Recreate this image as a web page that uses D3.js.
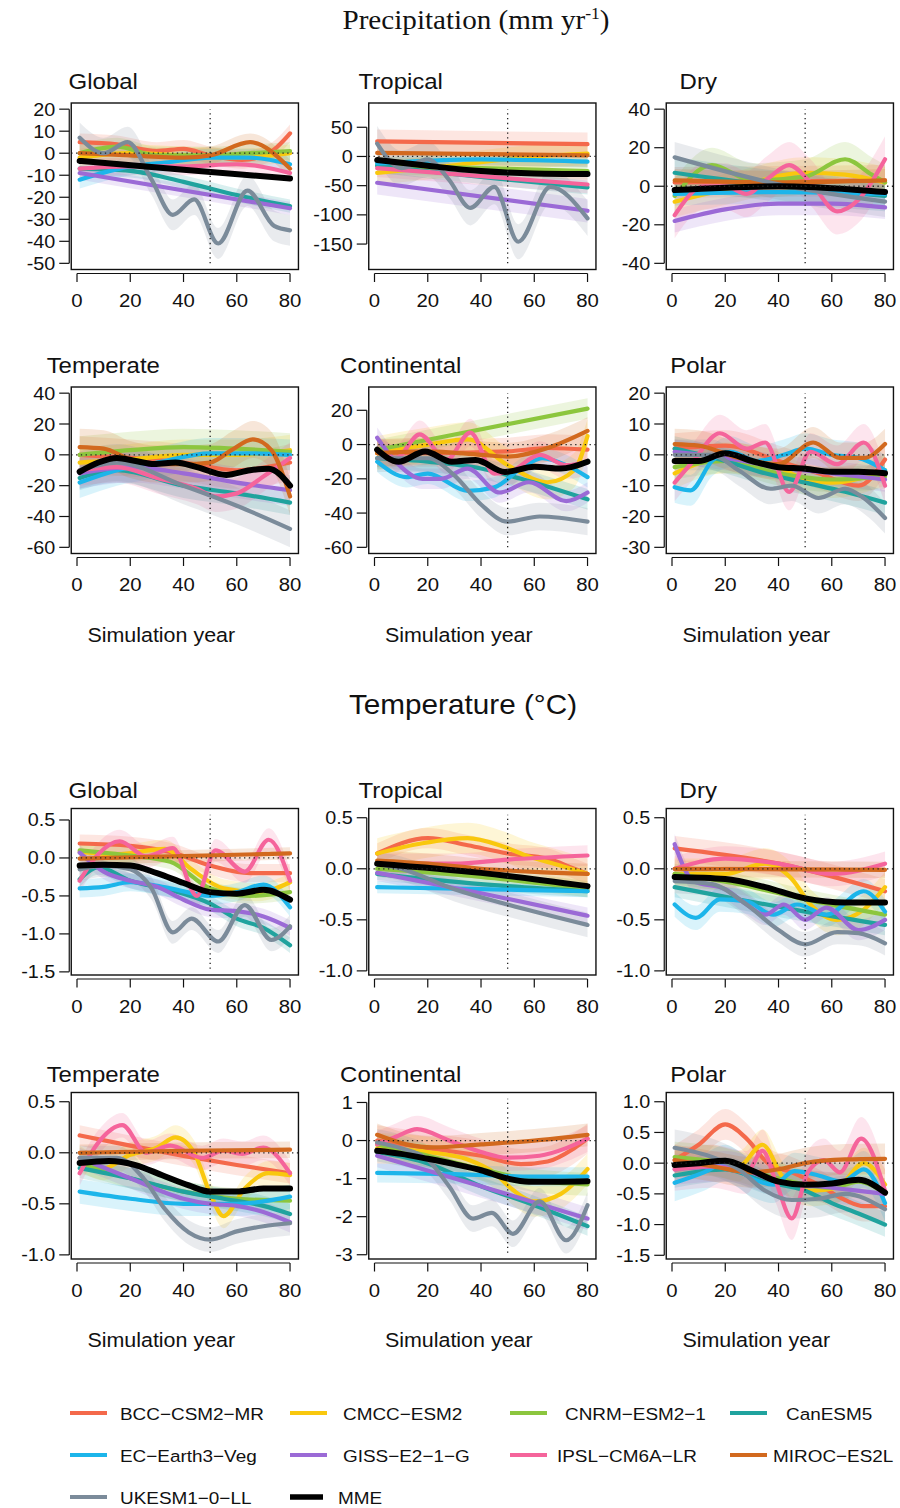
<!DOCTYPE html>
<html><head><meta charset="utf-8">
<script src="https://cdn.jsdelivr.net/npm/d3@7"></script>
<style>body{margin:0;background:#fff}</style>
</head><body><svg id="c" width="900" height="1508"></svg>
<script>
// ---------- DATA ----------
const models = ["BCC-CSM2-MR","CMCC-ESM2","CNRM-ESM2-1","CanESM5","EC-Earth3-Veg","GISS-E2-1-G","IPSL-CM6A-LR","MIROC-ES2L","UKESM1-0-LL","MME"];
const palette = ["#F4694B","#F9C80E","#8CC63E","#20A39E","#1CB5EA","#9B6AD6","#F5649B","#D2691E","#7B8B9A","#000000"];
const regions = ["Global","Tropical","Dry","Temperate","Continental","Polar"];
const yearRange = [1, 80];
const xTicks = [0, 20, 40, 60, 80];

// Precipitation (mm/yr) – order: models above
const precipGlobal = [
  [[1,5],[15,4],[30,1],[40,2],[50,-1],[62,-3],[72,0],[80,9]],
  [[1,-2],[20,0],[40,-1],[60,-2],[80,0]],
  [[1,0],[15,3],[30,-1],[50,-1],[65,0],[80,1]],
  [[1,-7],[20,-8],[40,-13],[60,-19],[80,-24]],
  [[1,-12],[20,-6],[35,-4],[50,-2],[65,-2],[80,-5]],
  [[1,-9],[80,-25]],
  [[1,-7],[20,-6],[40,-6],[60,-5],[80,-9]],
  [[1,0],[20,-1],[40,-2],[50,-1],[65,5],[80,-7]],
  [[1,7],[10,0],[19,5],[28,-12],[36,-28],[44,-21],[53,-41],[64,-17],[74,-33],[80,-35]],
  [[1,-3.5],[40,-7.5],[80,-11.5]]
];
const precipGlobalCI = [4,4,4,3,4,3,4,4,7,0];
const precipTropical = [
  [[1,26],[80,21]],
  [[1,-28],[30,-15],[60,0],[80,5]],
  [[1,-15],[80,-25]],
  [[1,-16],[40,-35],[80,-53]],
  [[1,-12],[40,-5],[80,-9]],
  [[1,-45],[80,-93]],
  [[1,-20],[80,-48]],
  [[1,6],[80,2]],
  [[1,22],[10,-20],[20,-5],[28,-40],[36,-88],[45,-52],[54,-146],[66,-52],[80,-106]],
  [[1,-6],[20,-16],[40,-25],[60,-29],[80,-30]]
];
const precipTropicalCI = [20,20,15,12,10,20,15,20,30,0];
const precipDry = [
  [[1,2],[80,3]],
  [[1,-8],[25,0],[50,7],[65,6],[80,2]],
  [[1,-5],[15,11],[30,3],[50,5],[65,14],[75,6],[80,2]],
  [[1,7],[40,0],[80,-5]],
  [[1,-4],[40,-3],[80,-4]],
  [[1,-18],[20,-12],[40,-9],[60,-9],[80,-11]],
  [[1,-15],[12,0],[20,0],[28,-4],[36,4],[44,11],[52,2],[62,-13],[70,-7],[80,14]],
  [[1,3],[40,2],[80,3]],
  [[1,15],[40,1],[80,-8]],
  [[1,-2],[40,0],[60,-1],[80,-3]]
];
const precipDryCI = [8,8,9,8,6,6,12,6,8,0];
const precipTemperate = [
  [[1,0],[20,-2],[40,-5],[60,-10],[80,-5]],
  [[1,-5],[20,-3],[40,0],[60,0],[80,3]],
  [[1,0],[20,3],[40,5],[60,4],[80,2]],
  [[1,-15],[15,-10],[40,-20],[60,-25],[80,-31]],
  [[1,-18],[15,-10],[30,-5],[50,1],[65,1],[80,0]],
  [[1,-12],[20,-8],[40,-12],[60,-18],[80,-23]],
  [[1,-10],[15,-8],[30,-15],[45,-22],[52,-27],[60,-25],[70,-14],[80,-2]],
  [[1,5],[10,4],[20,-3],[30,-6],[40,-6],[50,-5],[58,3],[66,10],[73,3],[80,-27]],
  [[1,-10],[15,-5],[40,-20],[60,-33],[80,-48]],
  [[1,-11],[8,-5],[15,-2],[22,-4],[29,-6],[37,-5],[45,-8],[56,-13],[65,-10],[72,-9],[80,-20]]
];
const precipTemperateCI = [12,10,12,8,10,10,10,12,12,0];
const precipContinental = [
  [[1,-5],[20,-5],[50,-4],[65,-2],[80,-3]],
  [[1,-5],[20,0],[35,3],[50,-12],[65,-22],[75,-15],[80,5]],
  [[1,-3],[80,21]],
  [[1,-8],[20,-10],[40,-14],[55,-20],[80,-32]],
  [[1,-10],[12,-19],[20,-17],[35,-27],[45,-25],[55,-14],[63,-8],[72,-12],[80,-19]],
  [[1,4],[8,-10],[18,-20],[25,-20],[35,-14],[47,-28],[58,-22],[72,-33],[80,-28]],
  [[1,-3],[8,-8],[17,6],[27,-9],[36,7],[45,-17],[52,-15],[62,-6],[72,-12],[80,-10]],
  [[1,-5],[20,-4],[40,-6],[50,-7],[65,-2],[80,8]],
  [[1,-8],[20,-8],[30,-18],[40,-35],[50,-45],[62,-42],[80,-45]],
  [[1,-3],[9,-10],[19,-4],[29,-10],[38,-9],[49,-16],[60,-13],[70,-14],[80,-10]]
];
const precipContinentalCI = [8,10,6,6,6,6,8,8,8,0];
const precipPolar = [
  [[1,2],[20,3],[40,-2],[55,-6],[70,-10],[80,-1.5]],
  [[1,-6],[20,-1],[40,-4],[50,-8],[60,-9],[80,-5]],
  [[1,-4],[20,-2],[40,-6],[60,-8],[80,-7]],
  [[1,2],[20,-2],[35,-6],[50,-9],[65,-12],[80,-15.5]],
  [[1,-10.5],[7,-11.5],[15,-2],[22,1],[32,-2],[42,0],[50,2],[60,0],[70,-1],[80,-5]],
  [[1,1],[20,-1],[40,-4],[60,-6],[80,-8]],
  [[1,-9],[8,-2],[18,7],[28,2],[35,4],[44,-12],[52,1],[62,-3],[72,4],[80,-10]],
  [[1,3.5],[10,3],[25,-1],[40,-3],[53,4],[63,-1],[72,-1],[80,3.5]],
  [[1,0],[15,0],[25,-5],[37,-11],[45,-10],[55,-14],[65,-11],[72,-14],[80,-20.5]],
  [[1,-2],[10,-2],[20,0.5],[30,-2],[40,-4],[50,-4.5],[60,-5.5],[70,-5.5],[80,-6]]
];
const precipPolarCI = [5,5,4,4,5,4,6,5,5,0];
const precipYlim = [[-50,20],[-183,81],[-40,40],[-60,40],[-60,30],[-30,20]];
const precipYTicks = [[20,10,0,-10,-20,-30,-40,-50],[50,0,-50,-100,-150],[40,20,0,-20,-40],[40,20,0,-20,-40,-60],[20,0,-20,-40,-60],[20,10,0,-10,-20,-30]];
const precipYLabels = precipYTicks.map(t => t.map(String));

// Temperature (°C)
const tempGlobal = [
  [[1,0.19],[20,0.16],[35,0.08],[50,-0.1],[65,-0.2],[80,-0.2]],
  [[1,0.08],[15,0.05],[33,0.12],[43,-0.15],[55,-0.4],[68,-0.45],[80,-0.32]],
  [[1,0.1],[20,0.03],[35,-0.05],[50,-0.4],[65,-0.5],[80,-0.45]],
  [[1,-0.28],[8,-0.12],[20,-0.3],[35,-0.42],[50,-0.6],[60,-0.8],[70,-0.92],[80,-1.15]],
  [[1,-0.4],[10,-0.38],[20,-0.32],[35,-0.4],[50,-0.5],[60,-0.45],[70,-0.35],[80,-0.65]],
  [[1,0.07],[10,-0.18],[20,-0.3],[30,-0.38],[40,-0.55],[50,-0.68],[60,-0.7],[70,-0.77],[80,-0.92]],
  [[1,-0.3],[8,0.05],[16,0.22],[26,0.02],[36,0.13],[45,-0.5],[52,0.1],[63,-0.18],[72,0.24],[80,-0.3]],
  [[1,-0.01],[80,0.06]],
  [[1,-0.15],[10,-0.1],[20,-0.15],[28,-0.4],[36,-0.98],[43,-0.8],[53,-1.1],[63,-0.62],[73,-1.08],[80,-0.9]],
  [[1,-0.1],[10,-0.09],[20,-0.1],[30,-0.2],[40,-0.33],[50,-0.45],[60,-0.47],[70,-0.42],[80,-0.55]]
];
const tempGlobalCI = [0.12,0.12,0.1,0.1,0.12,0.1,0.15,0.08,0.15,0];
const tempTropical = [
  [[1,0.15],[20,0.3],[35,0.23],[50,0.15],[65,0.1],[75,0.0],[80,-0.05]],
  [[1,0.15],[18,0.25],[35,0.3],[48,0.22],[58,0.12],[70,0.03],[80,-0.05]],
  [[1,0.0],[40,-0.08],[80,-0.2]],
  [[1,-0.05],[40,-0.15],[80,-0.22]],
  [[1,-0.18],[40,-0.2],[80,-0.22]],
  [[1,-0.04],[40,-0.24],[80,-0.46]],
  [[1,0.05],[30,0.05],[50,0.09],[80,0.13]],
  [[1,0.08],[20,0.05],[40,0.0],[60,-0.03],[80,-0.05]],
  [[1,0.05],[10,0.0],[30,-0.2],[50,-0.35],[80,-0.55]],
  [[1,0.05],[40,-0.04],[80,-0.17]]
];
const tempTropicalCI = [0.1,0.15,0.08,0.06,0.06,0.08,0.1,0.1,0.12,0];
const tempDry = [
  [[1,0.2],[40,0.05],[80,-0.22]],
  [[1,-0.05],[20,-0.05],[35,0.05],[45,-0.1],[52,-0.35],[62,-0.5],[72,-0.4],[80,-0.18]],
  [[1,-0.05],[25,-0.15],[50,-0.3],[80,-0.45]],
  [[1,-0.18],[25,-0.3],[50,-0.42],[80,-0.55]],
  [[1,-0.35],[9,-0.48],[18,-0.3],[28,-0.32],[38,-0.45],[47,-0.35],[58,-0.45],[72,-0.22],[80,-0.42]],
  [[1,0.24],[8,-0.12],[20,-0.2],[28,-0.35],[35,-0.45],[42,-0.35],[50,-0.5],[58,-0.38],[70,-0.6],[80,-0.5]],
  [[1,0.0],[20,0.1],[40,0.05],[60,-0.05],[80,0.05]],
  [[1,0],[80,-0.01]],
  [[1,-0.12],[15,-0.15],[28,-0.35],[40,-0.6],[50,-0.74],[62,-0.62],[70,-0.63],[80,-0.73]],
  [[1,-0.08],[20,-0.1],[35,-0.18],[50,-0.29],[65,-0.33],[80,-0.33]]
];
const tempDryCI = [0.12,0.15,0.1,0.1,0.12,0.1,0.12,0.08,0.12,0];
const tempTemperate = [
  [[1,0.17],[20,0.07],[40,-0.03],[60,-0.12],[80,-0.2]],
  [[1,-0.05],[10,-0.15],[20,-0.02],[30,0.05],[37,0.15],[44,0.0],[50,-0.4],[55,-0.62],[63,-0.35],[72,-0.2],[80,-0.22]],
  [[1,-0.1],[20,-0.25],[40,-0.38],[60,-0.45],[80,-0.47]],
  [[1,-0.15],[20,-0.25],[40,-0.38],[55,-0.45],[70,-0.52],[80,-0.6]],
  [[1,-0.38],[20,-0.45],[40,-0.5],[60,-0.5],[80,-0.43]],
  [[1,-0.05],[20,-0.25],[40,-0.45],[50,-0.5],[60,-0.52],[70,-0.58],[80,-0.68]],
  [[1,-0.2],[8,0.1],[17,0.27],[26,0.0],[35,0.07],[47,-0.05],[55,0.02],[62,-0.01],[70,0.05],[80,-0.2]],
  [[1,0.0],[40,0.02],[80,0.03]],
  [[1,-0.05],[15,-0.05],[25,-0.25],[33,-0.55],[42,-0.78],[50,-0.85],[60,-0.77],[70,-0.72],[80,-0.69]],
  [[1,-0.1],[12,-0.08],[22,-0.12],[32,-0.22],[42,-0.32],[50,-0.38],[60,-0.38],[70,-0.35],[80,-0.35]]
];
const tempTemperateCI = [0.1,0.12,0.1,0.1,0.12,0.1,0.12,0.08,0.12,0];
const tempContinental = [
  [[1,0.0],[20,-0.2],[40,-0.4],[55,-0.62],[65,-0.55],[75,-0.2],[80,0.05]],
  [[1,-0.2],[20,-0.3],[35,-0.5],[45,-0.85],[52,-1.3],[60,-1.6],[70,-1.4],[80,-0.75]],
  [[1,-0.1],[20,-0.4],[40,-0.75],[60,-1.05],[80,-1.15]],
  [[1,-0.3],[20,-0.6],[40,-1.2],[60,-1.7],[80,-2.25]],
  [[1,-0.85],[30,-0.88],[60,-0.95],[80,-0.95]],
  [[1,-0.4],[40,-1.2],[80,-2.05]],
  [[1,-0.1],[8,0.1],[16,0.3],[28,0.0],[40,-0.3],[50,-0.45],[62,-0.4],[72,-0.2],[80,0.05]],
  [[1,0.15],[12,-0.1],[22,-0.18],[40,-0.1],[60,0.0],[80,0.15]],
  [[1,-0.05],[10,-0.2],[20,-0.5],[28,-1.2],[37,-2.05],[44,-1.9],[52,-2.45],[62,-1.6],[72,-2.62],[80,-1.7]],
  [[1,-0.27],[10,-0.35],[20,-0.48],[30,-0.62],[40,-0.78],[50,-1.0],[58,-1.08],[70,-1.08],[80,-1.07]]
];
const tempContinentalCI = [0.4,0.4,0.3,0.25,0.25,0.3,0.35,0.3,0.35,0];
const tempPolar = [
  [[1,0.05],[10,0.3],[20,0.63],[28,0.4],[36,0.0],[45,-0.15],[55,-0.35],[65,-0.6],[72,-0.7],[80,-0.7]],
  [[1,-0.05],[15,0.05],[25,-0.05],[34,0.3],[42,-0.25],[52,-0.45],[62,-0.4],[72,0.0],[80,-0.35]],
  [[1,0.1],[20,0.0],[40,-0.25],[60,-0.4],[70,-0.3],[80,-0.5]],
  [[1,-0.2],[20,-0.1],[35,-0.3],[50,-0.45],[60,-0.65],[70,-0.82],[80,-1.0]],
  [[1,-0.32],[12,-0.15],[20,0.0],[30,-0.25],[38,-0.35],[46,-0.13],[55,-0.2],[64,-0.3],[72,-0.1],[80,-0.65]],
  [[1,-0.1],[20,-0.05],[40,-0.3],[60,-0.4],[80,-0.5]],
  [[1,-0.1],[15,-0.05],[28,-0.15],[34,0.2],[39,-0.3],[45,-0.9],[51,-0.15],[57,0.05],[63,-0.15],[71,0.4],[80,-0.45]],
  [[1,0.05],[15,-0.05],[30,-0.15],[40,-0.1],[50,0.0],[65,0.06],[80,0.07]],
  [[1,0.25],[15,0.1],[25,-0.1],[35,-0.45],[45,-0.6],[55,-0.58],[65,-0.5],[80,-0.75]],
  [[1,-0.03],[10,0.0],[20,0.04],[30,-0.12],[40,-0.3],[50,-0.35],[60,-0.33],[70,-0.27],[80,-0.48]]
];
const tempPolarCI = [0.25,0.25,0.25,0.2,0.3,0.25,0.35,0.25,0.3,0];
const tempYlim = [[-1.46,0.57],[-0.98,0.53],[-0.98,0.53],[-0.98,0.53],[-2.95,1.1],[-1.46,1.05]];
const tempYTicks = [[0.5,0,-0.5,-1,-1.5],[0.5,0,-0.5,-1],[0.5,0,-0.5,-1],[0.5,0,-0.5,-1],[1,0,-1,-2,-3],[1,0.5,0,-0.5,-1,-1.5]];
const tempYLabels = [["0.5","0.0","-0.5","-1.0","-1.5"],["0.5","0.0","-0.5","-1.0"],["0.5","0.0","-0.5","-1.0"],["0.5","0.0","-0.5","-1.0"],["1","0","-1","-2","-3"],["1.0","0.5","0.0","-0.5","-1.0","-1.5"]];

const legendLabels = ["BCC\u2212CSM2\u2212MR","CMCC\u2212ESM2","CNRM\u2212ESM2\u22121","CanESM5","EC\u2212Earth3\u2212Veg","GISS\u2212E2\u22121\u2212G","IPSL\u2212CM6A\u2212LR","MIROC\u2212ES2L","UKESM1\u22120\u2212LL","MME"];

// ---------- LAYOUT ----------
const svg = d3.select("#c");
svg.append("rect").attr("width",900).attr("height",1508).attr("fill","#fff");
const SANS = "'Liberation Sans', Arial, Helvetica, sans-serif";
const SERIF = "'Liberation Serif', 'Times New Roman', serif";
const SX = 1.1;
const colX = [71.25, 368.75, 666.25];
const boxW = 227.2, boxH = 166.5;

function txt(g, x, y, s, size, anchor, fam) {
  return g.append("text")
    .attr("transform", `translate(${x},${y}) scale(${SX},1)`)
    .attr("text-anchor", anchor || "start")
    .attr("font-family", fam || SANS)
    .attr("font-size", size)
    .attr("fill", "#111")
    .text(s);
}

let clipId = 0;
function panel(bx, by, title, titleOff, series, ci, ylim, yTicks, yLabels, showXLab) {
  const g = svg.append("g");
  const xr = yearRange[1] - yearRange[0];
  const x = d3.scaleLinear().domain([yearRange[0] - 0.04*xr, yearRange[1] + 0.04*xr]).range([bx, bx + boxW]);
  const yr = ylim[1] - ylim[0];
  const y = d3.scaleLinear().domain([ylim[0] - 0.04*yr, ylim[1] + 0.04*yr]).range([by + boxH, by]);

  const id = "clip" + (clipId++);
  svg.append("clipPath").attr("id", id).append("rect").attr("x", bx).attr("y", by).attr("width", boxW).attr("height", boxH);
  const pg = g.append("g").attr("clip-path", `url(#${id})`);

  const area = d3.area().curve(d3.curveMonotoneX).x(d => x(d[0]));
  const line = d3.line().curve(d3.curveMonotoneX).x(d => x(d[0])).y(d => y(d[1]));

  series.forEach((s, i) => {
    if (!ci[i]) return;
    pg.append("path").attr("d", area.y0(d => y(d[1] - ci[i])).y1(d => y(d[1] + ci[i]))(s))
      .attr("fill", palette[i]).attr("fill-opacity", 0.17).attr("stroke", "none");
  });
  series.forEach((s, i) => {
    if (i === 9) return;
    pg.append("path").attr("d", line(s)).attr("fill", "none").attr("stroke", palette[i])
      .attr("stroke-width", 4.2).attr("stroke-linecap", "round").attr("stroke-linejoin", "round");
  });
  g.append("line").attr("x1", bx).attr("x2", bx + boxW + 3).attr("y1", y(0)).attr("y2", y(0))
    .attr("stroke", "#222").attr("stroke-width", 1.3).attr("stroke-dasharray", "1.3,3.5");
  g.append("line").attr("x1", x(50)).attr("x2", x(50)).attr("y1", y(ylim[0])).attr("y2", y(ylim[1]))
    .attr("stroke", "#222").attr("stroke-width", 1.3).attr("stroke-dasharray", "1.3,3.5");
  pg.append("path").attr("d", line(series[9])).attr("fill", "none").attr("stroke", palette[9])
    .attr("stroke-width", 6).attr("stroke-linecap", "round").attr("stroke-linejoin", "round");

  g.append("rect").attr("x", bx).attr("y", by).attr("width", boxW).attr("height", boxH)
    .attr("fill", "none").attr("stroke", "#111").attr("stroke-width", 1.4);

  const ay = by + boxH + 4;
  g.append("line").attr("x1", x(xTicks[0])).attr("x2", x(xTicks[xTicks.length-1])).attr("y1", ay).attr("y2", ay)
    .attr("stroke", "#111").attr("stroke-width", 1.2);
  xTicks.forEach(t => {
    g.append("line").attr("x1", x(t)).attr("x2", x(t)).attr("y1", ay).attr("y2", ay + 8.5)
      .attr("stroke", "#111").attr("stroke-width", 1.2);
    txt(g, x(t), by + boxH + 37.5, String(t), 18.5, "middle");
  });
  const ax = bx - 2;
  g.append("line").attr("x1", ax).attr("x2", ax).attr("y1", y(yTicks[0])).attr("y2", y(yTicks[yTicks.length-1]))
    .attr("stroke", "#111").attr("stroke-width", 1.2);
  yTicks.forEach((t, k) => {
    g.append("line").attr("x1", ax - 10).attr("x2", ax).attr("y1", y(t)).attr("y2", y(t))
      .attr("stroke", "#111").attr("stroke-width", 1.2);
    txt(g, bx - 16, y(t) + 6.5, yLabels[k], 18, "end");
  });
  txt(g, bx + 32, by - titleOff, title, 21.8, "middle");
  if (showXLab) txt(g, bx + 90, by + boxH + 88, "Simulation year", 19.5, "middle");
}

const t1 = svg.append("text").attr("transform", `translate(476,29) scale(${SX},1)`)
  .attr("text-anchor", "middle").attr("font-family", SERIF).attr("font-size", 26.5).attr("fill", "#111");
t1.append("tspan").text("Precipitation (mm yr");
t1.append("tspan").attr("font-size", 16).attr("dy", -10).text("-1");
t1.append("tspan").attr("dy", 10).text(")");
txt(svg, 463, 714, "Temperature (\u00B0C)", 27, "middle");

const precipData = [precipGlobal, precipTropical, precipDry, precipTemperate, precipContinental, precipPolar];
const precipCI = [precipGlobalCI, precipTropicalCI, precipDryCI, precipTemperateCI, precipContinentalCI, precipPolarCI];
const tempData = [tempGlobal, tempTropical, tempDry, tempTemperate, tempContinental, tempPolar];
const tempCI = [tempGlobalCI, tempTropicalCI, tempDryCI, tempTemperateCI, tempContinentalCI, tempPolarCI];

const precipRows = [103, 387], tempRows = [808.5, 1092.5];
regions.forEach((r, i) => {
  const c = i % 3, row = Math.floor(i / 3);
  panel(colX[c], precipRows[row], r, 14, precipData[i], precipCI[i], precipYlim[i], precipYTicks[i], precipYLabels[i], row === 1);
  panel(colX[c], tempRows[row], r, 10.5, tempData[i], tempCI[i], tempYlim[i], tempYTicks[i], tempYLabels[i], row === 1);
});

// Legend
const legLineX = [70, 290, 510, 730];
const legTextX = [120, 343, 565, 786, 120, 343, 557, 773, 120, 338];
const legY = [1413, 1455, 1497];
legendLabels.forEach((lab, i) => {
  const c = i % 4, r = Math.floor(i / 4);
  const lx = legLineX[c], ly = legY[r];
  svg.append("line").attr("x1", lx).attr("x2", lx + (i === 9 ? 33 : 37)).attr("y1", ly).attr("y2", ly)
    .attr("stroke", palette[i]).attr("stroke-width", i === 9 ? 5.5 : 4.2);
  txt(svg, legTextX[i], ly + 6.5, lab, 17.2, "start");
});
</script></body></html>
